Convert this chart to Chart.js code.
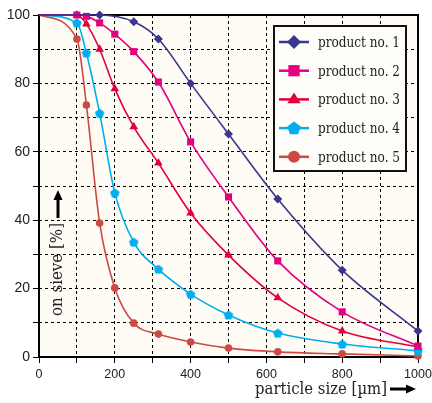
<!DOCTYPE html>
<html><head><meta charset="utf-8">
<script src="https://cdn.jsdelivr.net/npm/chart.js@4.4.1/dist/chart.umd.min.js"></script>
<style>html,body{margin:0;padding:0;background:#fff}#wrap{width:432px;height:403px}</style>
</head><body><div id="wrap"><canvas id="c" width="432" height="403"></canvas></div>
<script>
// ---- data ----
const sizes    = [0, 100, 125, 160, 200, 250, 315, 400, 500, 630, 800, 1000];
const product1 = [100, null, null, 100, null, 98, 93, 80, 65.2, 46.2, 25.4, 7.6];
const product2 = [100, 100, 99.6, 97.7, 94.4, 89.3, 80.4, 62.9, 46.8, 28.1, 13.2, 3.2];
const product3 = [100, 100, 97.4, 90, 78.4, 67.3, 56.7, 42.1, 29.8, 17.3, 7.6, 2.9];
const product4 = [100, 97.7, 88.9, 71.3, 48, 33.6, 25.7, 18.4, 12.3, 7.0, 3.8, 1.8];
const product5 = [100, 93, 73.7, 39.2, 20.2, 9.9, 6.7, 4.4, 2.6, 1.5, 0.9, 0.3];
const seriesLabels = ['product no. 1', 'product no. 2', 'product no. 3', 'product no. 4', 'product no. 5'];
const xTickLabels = [0, 200, 400, 600, 800, 1000];
const yTickLabels = [0, 20, 40, 60, 80, 100];
const xTitle = 'particle size [\u00b5m]';
const yTitle = 'on sieve [%]';

const colors = ['#3a368d', '#e4007f', '#e2003b', '#00aeef', '#cc4a43'];
const SERIF = "'DejaVu Serif Condensed', 'DejaVu Serif', serif";
const NARROW = "'Liberation Sans Narrow', 'Liberation Sans', sans-serif";

function pentagonCanvas(color, r) {
  const s = Math.ceil(r * 2 + 2);
  const cv = document.createElement('canvas');
  cv.width = s; cv.height = s;
  const g = cv.getContext('2d');
  drawPentagon(g, s / 2, s / 2 + 0.5, r, color);
  return cv;
}
function drawPentagon(g, cx, cy, r, color) {
  g.beginPath();
  for (let i = 0; i < 5; i++) {
    const a = -Math.PI / 2 + i * 2 * Math.PI / 5;
    const px = cx + r * Math.cos(a), py = cy + r * Math.sin(a);
    if (i === 0) g.moveTo(px, py); else g.lineTo(px, py);
  }
  g.closePath();
  g.fillStyle = color; g.fill();
}
// draw text squeezed horizontally to a given width (text stays real text)
function fitText(ctx, text, x, y, width, align) {
  const w = ctx.measureText(text).width;
  const sx = Math.min(1, width / w);
  ctx.save();
  ctx.translate(x, y);
  ctx.scale(sx, 1);
  ctx.textAlign = align;
  ctx.fillText(text, 0, 0);
  ctx.restore();
}

const styles = [
  { pointStyle: 'rectRot', r: 4.5, lr: 7 },
  { pointStyle: 'rect', r: 5, lr: 7.5 },
  { pointStyle: 'triangle', r: 5, lr: 7 },
  { pointStyle: pentagonCanvas(colors[3], 5), r: 5, lr: 7 },
  { pointStyle: 'circle', r: 3.8, lr: 6 }
];
const series = [product1, product2, product3, product4, product5];

const datasets = series.map((vals, k) => ({
  label: seriesLabels[k],
  data: sizes.map((x, i) => ({ x: x, y: vals[i] })).filter(p => p.y !== null),
  borderColor: colors[k],
  backgroundColor: colors[k],
  pointBackgroundColor: colors[k],
  pointBorderColor: colors[k],
  pointBorderWidth: 0,
  borderWidth: 1.6,
  pointStyle: styles[k].pointStyle,
  pointRadius: (c) => (c.raw && c.raw.x === 0) ? 0 : styles[k].r,
  cubicInterpolationMode: 'monotone',
  clip: false
}));

const decor = {
  id: 'decor',
  beforeDraw(chart) {
    const { ctx, chartArea: a } = chart;
    ctx.save();
    ctx.fillStyle = '#fffcf6';
    ctx.fillRect(a.left, a.top, a.right - a.left, a.bottom - a.top);
    ctx.restore();
  },
  beforeDatasetsDraw(chart) {
    const { ctx, chartArea: a } = chart;
    ctx.save();
    ctx.strokeStyle = '#000';
    ctx.lineWidth = 2;
    ctx.strokeRect(a.left, a.top, a.right - a.left, a.bottom - a.top);
    ctx.restore();
  },
  afterDraw(chart) {
    const { ctx, chartArea: a } = chart;
    ctx.save();
    // legend box
    const bx = a.right - 144, by = a.top + 11, bw = 132, bh = 145;
    ctx.fillStyle = '#fffdf9';
    ctx.fillRect(bx, by, bw, bh);
    ctx.strokeStyle = '#111';
    ctx.lineWidth = 2;
    ctx.strokeRect(bx, by, bw, bh);
    ctx.font = '15px ' + SERIF;
    ctx.textBaseline = 'middle';
    for (let k = 0; k < 5; k++) {
      const cy = by + 16 + k * 28.7;
      ctx.strokeStyle = colors[k];
      ctx.lineWidth = 2.5;
      ctx.beginPath(); ctx.moveTo(bx + 5, cy); ctx.lineTo(bx + 35, cy); ctx.stroke();
      const mx = bx + 20, r = styles[k].lr;
      ctx.fillStyle = colors[k];
      ctx.beginPath();
      if (k === 0) { ctx.moveTo(mx, cy - r); ctx.lineTo(mx + r, cy); ctx.lineTo(mx, cy + r); ctx.lineTo(mx - r, cy); ctx.closePath(); ctx.fill(); }
      else if (k === 1) { const s = r * 0.75; ctx.fillRect(mx - s, cy - s, 2 * s, 2 * s); }
      else if (k === 2) { ctx.moveTo(mx, cy - r); ctx.lineTo(mx + r * 0.95, cy + r * 0.55); ctx.lineTo(mx - r * 0.95, cy + r * 0.55); ctx.closePath(); ctx.fill(); }
      else if (k === 3) { drawPentagon(ctx, mx, cy + 0.5, r, colors[k]); }
      else { ctx.arc(mx, cy, r, 0, Math.PI * 2); ctx.fill(); }
      ctx.fillStyle = '#222';
      fitText(ctx, seriesLabels[k], bx + 44, cy + 1, 82, 'left');
    }
    // x title
    ctx.font = '17px ' + SERIF;
    ctx.fillStyle = '#222';
    ctx.textBaseline = 'alphabetic';
    fitText(ctx, xTitle, 387, 394, 132, 'right');
    // x arrow
    ctx.strokeStyle = '#000'; ctx.fillStyle = '#000'; ctx.lineWidth = 3;
    ctx.beginPath(); ctx.moveTo(390, 389); ctx.lineTo(408, 389); ctx.stroke();
    ctx.beginPath(); ctx.moveTo(416, 389); ctx.lineTo(406, 384.5); ctx.lineTo(406, 393.5); ctx.closePath(); ctx.fill();
    // y title
    ctx.save();
    ctx.translate(58, 316);
    ctx.rotate(-Math.PI / 2);
    ctx.textBaseline = 'middle';
    ctx.fillStyle = '#222';
    fitText(ctx, yTitle, 0, 0, 93, 'left');
    ctx.restore();
    ctx.beginPath(); ctx.moveTo(58, 218); ctx.lineTo(58, 199); ctx.stroke();
    ctx.beginPath(); ctx.moveTo(58, 190); ctx.lineTo(53.5, 200); ctx.lineTo(62.5, 200); ctx.closePath(); ctx.fill();
    ctx.restore();
  }
};

new Chart(document.getElementById('c'), {
  type: 'line',
  data: { datasets: datasets },
  plugins: [decor],
  options: {
    responsive: false,
    animation: false,
    devicePixelRatio: 1,
    layout: { padding: { top: 15, right: 14, left: 0, bottom: 0 } },
    plugins: { legend: { display: false }, tooltip: { enabled: false } },
    scales: {
      x: {
        type: 'linear', min: 0, max: 1000,
        afterFit(s) { s.height = 46; s.paddingLeft = 0; s.paddingRight = 0; },
        ticks: {
          stepSize: 100, autoSkip: false, maxRotation: 0, padding: 4,
          color: '#222', font: { family: NARROW, size: 12.5 },
          callback: (v) => xTickLabels.includes(v) ? String(v) : ''
        },
        grid: { color: '#000', lineWidth: 1, tickLength: 6, tickColor: '#000', tickWidth: 1 },
        border: { display: false, dash: [3, 3] }
      },
      y: {
        type: 'linear', min: 0, max: 100,
        afterFit(s) { s.width = 39; s.paddingTop = 0; s.paddingBottom = 0; },
        ticks: {
          stepSize: 10, autoSkip: false, padding: 3,
          color: '#222', font: { family: NARROW, size: 14 },
          callback: (v) => yTickLabels.includes(v) ? String(v) : ''
        },
        grid: { color: '#000', lineWidth: 1, tickLength: 6, tickColor: '#000', tickWidth: 1 },
        border: { display: false, dash: [3, 3] }
      }
    }
  }
});
</script></body></html>
